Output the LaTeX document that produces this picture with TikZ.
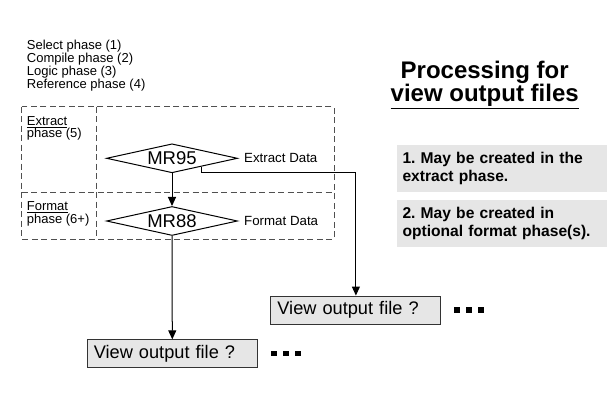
\documentclass[tikz,border=0pt]{standalone}
\usepackage{fontspec}
\setmainfont{Liberation Sans}
\usetikzlibrary{shapes.geometric,arrows.meta,calc}
\definecolor{boxgrey}{HTML}{E6E6E6}
\definecolor{dashgrey}{HTML}{505050}
\frenchspacing
\begin{document}
\begin{tikzpicture}[x=1pt,y=-1pt,
  dashbox/.style={draw=dashgrey,line width=0.9pt,dash pattern=on 6pt off 3.5pt},
  mrdiamond/.style={diamond,draw,line width=1pt,aspect=4.5,inner sep=0pt,minimum width=131pt,minimum height=29pt,font=\fontsize{18.5}{20}\selectfont},
  sidelabel/.style={anchor=west,inner sep=0pt,font=\fontsize{13.3}{14}\selectfont},
  phaselabel/.style={anchor=base west,inner sep=0pt,align=left,font=\fontsize{13}{11.5}\selectfont},
  viewbox/.style={draw=black!80,line width=0.9pt,fill=boxgrey,minimum width=170pt,minimum height=28pt,inner xsep=6.5pt,inner ysep=0pt,text width=157pt,align=left,font=\fontsize{18.2}{20}\selectfont},
  notebox/.style={fill=boxgrey,minimum width=210pt,minimum height=46.7pt,inner xsep=5.5pt,inner ysep=0pt,text width=199pt,align=left,font=\fontsize{15.6}{18.3}\selectfont\bfseries},
  dotsq/.style={fill=black,inner sep=0pt,minimum size=5.4pt},
  conn/.style={line width=1pt},
  arr/.style={conn,-{Triangle[length=9pt,width=8pt]}}]
\useasboundingbox (0,0) rectangle (608,414);
% top-left phase list
\node[phaselabel] (phases) at (26.7,89) {Select phase (1)\\Compile phase (2)\\Logic phase (3)\\Reference phase (4)};
% dashed frame
\draw[dashbox] (21.7,106.7) rectangle (334,239);
\draw[dashbox] (96.7,106.7) -- (96.7,239);
\draw[dashbox] (21.7,192.3) -- (334,192.3);
\node[phaselabel,font=\fontsize{13}{10.5}\selectfont] (extph) at (26.7,138) {\underline{Extract}\\phase (5)};
\node[phaselabel,font=\fontsize{13}{11}\selectfont] (fmtph) at (26.7,223.3) {\underline{Format}\\phase (6+)};
% diamonds
\node[mrdiamond] (m95) at (172,158.3) {MR95};
\node[mrdiamond] (m88) at (172,221) {MR88};
\node[sidelabel] (ed) at ($(m95.east)+(6,0)$) {Extract Data};
\node[sidelabel] (fd) at ($(m88.east)+(6,0)$) {Format Data};
% title
\node[align=center,inner sep=0pt,font=\fontsize{24}{20}\selectfont\bfseries] (title) at (484.7,85) {Processing for\\\underline{view output files}};
% notes
\node[notebox] (n1) at (502,168.3) {1. May be created in the\\extract phase.};
\node[notebox] (n2) at (502,223.3) {2. May be created in\\optional format phase(s).};
% view boxes
\node[viewbox] (v1) at (355.9,310) {View output file ?};
\node[viewbox] (v2) at (172.3,353.8) {View output file ?};
% dots
\node[dotsq] (d11) at (457,310) {};
\node[dotsq] (d12) at (469,310) {};
\node[dotsq] (d13) at (481,310) {};
\node[dotsq] (d21) at (274,353.7) {};
\node[dotsq] (d22) at (286,353.7) {};
\node[dotsq] (d23) at (298,353.7) {};
% connectors
\coordinate (s95) at ($(m95.south)!0.443!(m95.east)$);
\coordinate (c1) at (355.9,172.6);
\draw[arr] (m95.south) -- (m88.north);
\draw[arr] (s95) |- (c1) -- (v1.north);
\draw[arr] (m88.south) -- (v2.north);
\end{tikzpicture}
\end{document}
